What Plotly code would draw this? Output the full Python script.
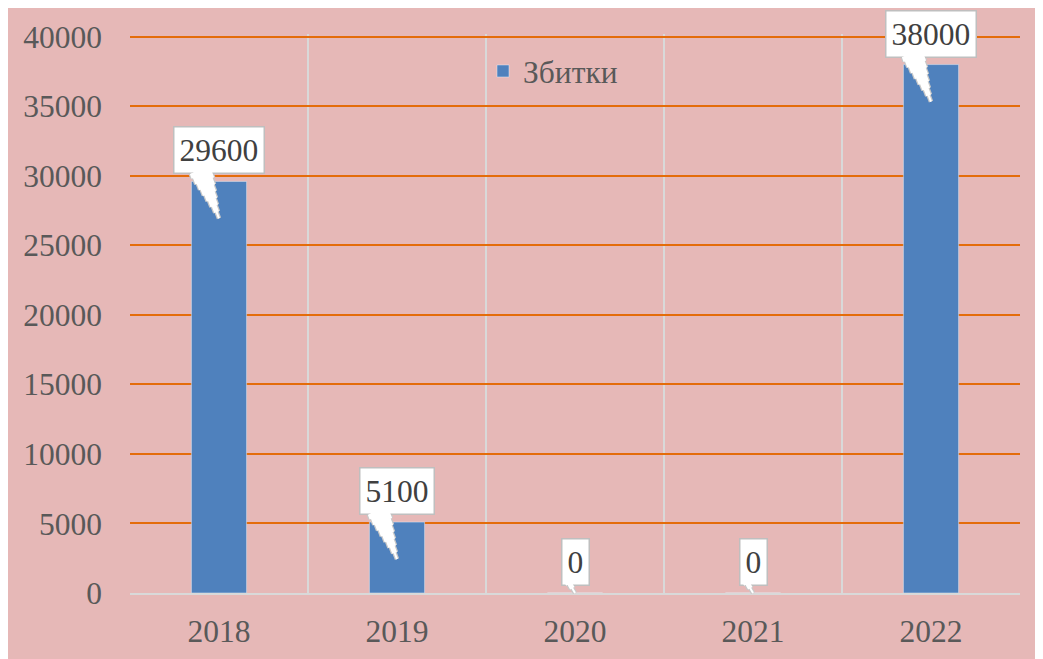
import plotly.graph_objects as go

years = ["2018", "2019", "2020", "2021", "2022"]
losses = [29600, 5100, 0, 0, 38000]
series_name = "Збитки"
y_ticks = [0, 5000, 10000, 15000, 20000, 25000, 30000, 35000, 40000]

PINK = "#E6B8B7"
BLUE = "#4F81BD"
ORANGE = "#E46C0A"
LGRAY = "#D9D9D9"
TXT = "#595959"
FONT = "Liberation Serif, Times New Roman, serif"
FS = 31.5

# page body has an 8px margin: figure sits at (8, 8)
W, H = 1035, 651
ML, MR, MT, MB = 122, 23, 26, 66
pw, ph = W - ML - MR, H - MT - MB

fig = go.Figure()
fig.add_trace(go.Bar(x=years, y=losses, name=series_name, marker_color=BLUE,
                     showlegend=True))


def pointer(i, v, tip_dy, tx, ty, widths, color):
    """tapered callout pointer built from stacked line segments (pixels)."""
    out = []
    n = len(widths)
    for k, w in enumerate(widths):
        s = 1.0 - k / n  # fraction of length covered, measured from tail
        out.append(dict(x=i, y=v, text="", showarrow=True, arrowhead=0,
                        arrowwidth=w, arrowcolor=color, standoff=0,
                        xshift=(1 - s) * tx, yshift=tip_dy - (1 - s) * ty,
                        ax=s * tx, ay=s * ty))
    return out


grey_ptr, white_ptr, boxes = [], [], []
for i, v in enumerate(losses):
    if v > 0:
        tip_dy, tx, ty = -37, -19, -50
        ww = [2, 5, 8, 11, 14, 17, 20, 23]
    else:
        tip_dy, tx, ty = 0, -8, -14
        ww = [2, 5, 8]
    grey_ptr += pointer(i, v, tip_dy, tx, ty, [w + 2.5 for w in ww], "#C8C8C8")
    white_ptr += pointer(i, v, tip_dy, tx, ty, ww, "white")
    boxes.append(dict(x=i, y=v, yshift=31, text=f"{v}", showarrow=False,
                      bgcolor="white", bordercolor="#BFBFBF", borderwidth=1.5,
                      borderpad=5, font=dict(family=FONT, size=FS, color="#404040")))

fig.update_layout(annotations=grey_ptr + boxes + white_ptr)

fig.update_layout(
    width=W, height=H,
    margin=dict(l=ML, r=MR, t=MT, b=MB, autoexpand=False),
    paper_bgcolor=PINK,
    plot_bgcolor=PINK,
    bargap=0.69,
    font=dict(family=FONT, size=FS, color=TXT),
    legend=dict(orientation="h", x=(475 - ML) / pw, y=(585 - 36) / ph,
                xanchor="left", yanchor="top", bgcolor="rgba(0,0,0,0)",
                font=dict(family=FONT, size=FS, color=TXT)),
    xaxis=dict(type="category", range=[-0.5, len(years) - 0.5],
               tickson="boundaries", showgrid=True,
               gridcolor=LGRAY, gridwidth=2, showline=True, linecolor=LGRAY,
               linewidth=2, ticks="", ticklabelstandoff=9, tickangle=0,
               tickfont=dict(family=FONT, size=FS, color=TXT)),
    yaxis=dict(range=[0, 40200], tickvals=y_ticks,
               ticktext=[str(t) for t in y_ticks], showgrid=True,
               gridcolor=ORANGE, gridwidth=1.5, zeroline=False, showline=False,
               ticks="", ticklabelstandoff=27,
               tickfont=dict(family=FONT, size=FS, color=TXT)),
)

fig.write_html("out.html")
